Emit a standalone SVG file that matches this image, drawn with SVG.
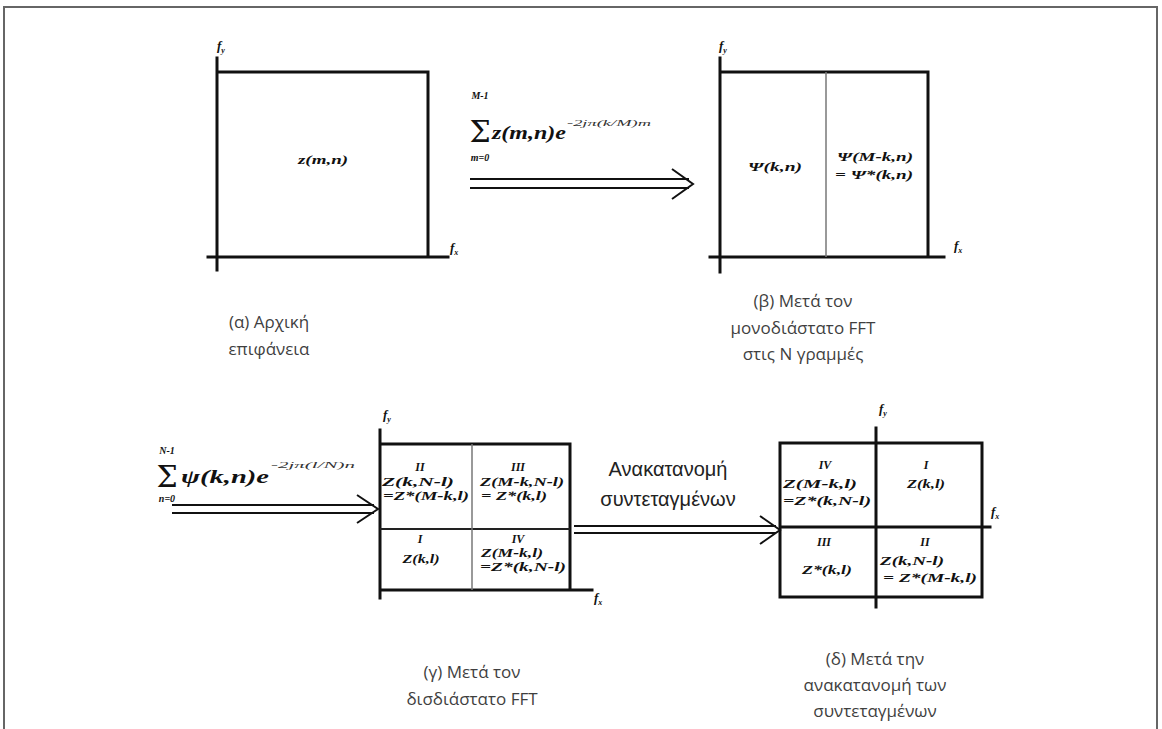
<svg xmlns="http://www.w3.org/2000/svg" width="1162" height="729" viewBox="0 0 1162 729">
<style>
.ax{stroke:#111;stroke-width:3;fill:none;stroke-linecap:square}
.thin{stroke:#777;stroke-width:1.5;fill:none}
.mid{stroke:#222;stroke-width:2;fill:none}
.arr{stroke:#111;stroke-width:2;fill:none}
.m{font-family:"Liberation Serif",serif;font-style:italic;font-weight:bold;fill:#111;text-anchor:middle}
.ms{font-family:"Liberation Serif",serif;font-style:italic;font-weight:bold;fill:#111;text-anchor:start}
.sup{font-family:"Liberation Serif",serif;font-style:italic;font-weight:normal;fill:#333;text-anchor:start}
.sig{font-family:"DejaVu Serif",serif;font-weight:normal;font-style:normal;fill:#111;text-anchor:middle}
.cap{font-family:"Open Sans","Noto Sans",sans-serif;font-size:17px;fill:#3f3f3f;text-anchor:middle}
.lab{font-family:"Liberation Serif",serif;font-style:italic;font-weight:bold;font-size:13px;fill:#111}
.gr{font-family:"Liberation Sans",sans-serif;font-size:20px;fill:#222;text-anchor:middle}
</style>
<rect x="4" y="7" width="1153" height="740" fill="none" stroke="#666" stroke-width="2"/>

<g id="panel-a">
<path class="ax" d="M217,58 V270 M208,257 H448 M217,72 H428 V257"/>
<text class="lab" x="217" y="50">f<tspan font-size="8" dy="3">y</tspan></text>
<text class="lab" x="450" y="252">f<tspan font-size="8" dy="3">x</tspan></text>
<text class="m" x="323" y="164" font-size="13" textLength="50" lengthAdjust="spacingAndGlyphs">z(m,n)</text>
</g>

<g id="panel-b">
<path class="ax" d="M720,58 V272 M710,257 H944 M720,72 H928 V257"/>
<path class="thin" d="M826,72 V257"/>
<text class="lab" x="719" y="50">f<tspan font-size="8" dy="3">y</tspan></text>
<text class="lab" x="954" y="250">f<tspan font-size="8" dy="3">x</tspan></text>
<g class="m" font-size="13">
<text x="775" y="171" textLength="54" lengthAdjust="spacingAndGlyphs">Ψ(k,n)</text>
<text x="875" y="161" textLength="76" lengthAdjust="spacingAndGlyphs">Ψ(M-k,n)</text>
<text x="874" y="179" textLength="78" lengthAdjust="spacingAndGlyphs">= Ψ*(k,n)</text>
</g>
</g>

<g id="panel-c">
<path class="ax" d="M380,430 V598 M380,590 H592 M380,444 H570 V590"/>
<path class="mid" d="M380,529 H570"/>
<path class="thin" d="M472,444 V590"/>
<text class="lab" x="383" y="419">f<tspan font-size="8" dy="3">y</tspan></text>
<text class="lab" x="594" y="602">f<tspan font-size="8" dy="3">x</tspan></text>
<g class="m" font-size="12">
<text x="420" y="471">II</text>
<text x="418" y="486" textLength="72" lengthAdjust="spacingAndGlyphs">Z(k,N-l)</text>
<text x="426" y="500" textLength="86" lengthAdjust="spacingAndGlyphs">=Z*(M-k,l)</text>
<text x="518" y="471">III</text>
<text x="522" y="486" textLength="84" lengthAdjust="spacingAndGlyphs">Z(M-k,N-l)</text>
<text x="514" y="500" textLength="66" lengthAdjust="spacingAndGlyphs">= Z*(k,l)</text>
<text x="420" y="543">I</text>
<text x="421" y="563" textLength="37" lengthAdjust="spacingAndGlyphs">Z(k,l)</text>
<text x="518" y="543">IV</text>
<text x="512" y="557" textLength="62" lengthAdjust="spacingAndGlyphs">Z(M-k,l)</text>
<text x="523" y="571" textLength="86" lengthAdjust="spacingAndGlyphs">=Z*(k,N-l)</text>
</g>
</g>

<g id="panel-d">
<path class="ax" d="M876,428 V607 M780,527 H990 M780,443 H982 V597 H780 Z"/>
<text class="lab" x="879" y="413">f<tspan font-size="8" dy="3">y</tspan></text>
<text class="lab" x="991" y="516">f<tspan font-size="8" dy="3">x</tspan></text>
<g class="m" font-size="12">
<text x="825" y="469">IV</text>
<text x="820" y="488" textLength="74" lengthAdjust="spacingAndGlyphs">Z(M-k,l)</text>
<text x="827" y="505" textLength="88" lengthAdjust="spacingAndGlyphs">=Z*(k,N-l)</text>
<text x="926" y="469">I</text>
<text x="926" y="488" textLength="38" lengthAdjust="spacingAndGlyphs">Z(k,l)</text>
<text x="824" y="546">III</text>
<text x="827" y="574" textLength="50" lengthAdjust="spacingAndGlyphs">Z*(k,l)</text>
<text x="925" y="546">II</text>
<text x="912" y="565" textLength="64" lengthAdjust="spacingAndGlyphs">Z(k,N-l)</text>
<text x="930" y="582" textLength="94" lengthAdjust="spacingAndGlyphs">= Z*(M-k,l)</text>
</g>
</g>

<g id="connectors">
<g id="arrow-ab">
<path class="arr" d="M470,179 H689 M470,188 H689 M672,169 L693,184 L672,199"/>
<text class="sig" x="480" y="142" font-size="30">Σ</text>
<text class="m" x="480" y="99" font-size="10">M-1</text>
<text class="m" x="480" y="161" font-size="10">m=0</text>
<text class="ms" x="492" y="139" font-size="18" textLength="74" lengthAdjust="spacingAndGlyphs">z(m,n)e</text>
<text class="sup" x="567" y="126" font-size="9" textLength="84" lengthAdjust="spacingAndGlyphs">-2jπ(k/M)m</text>
</g>
<g id="arrow-bc">
<path class="arr" d="M172,505 H374 M172,513 H374 M357,495 L378,509 L357,523"/>
<text class="sig" x="167" y="487" font-size="30">Σ</text>
<text class="m" x="167" y="454" font-size="10">N-1</text>
<text class="m" x="167" y="502" font-size="10">n=0</text>
<text class="ms" x="181" y="483" font-size="18" textLength="88" lengthAdjust="spacingAndGlyphs">ψ(k,n)e</text>
<text class="sup" x="271" y="468" font-size="9" textLength="84" lengthAdjust="spacingAndGlyphs">-2jπ(l/N)n</text>
</g>
<g id="arrow-cd">
<path class="arr" d="M574,526 H776 M574,533 H776 M760,516 L780,530 L760,544"/>
<text class="gr" x="668" y="476">Ανακατανομή</text>
<text class="gr" x="668" y="506">συντεταγμένων</text>
</g>
</g>

<g id="captions">
<text class="cap" x="269" y="328">(α) Αρχική</text>
<text class="cap" x="269" y="355">επιφάνεια</text>
<text class="cap" x="803" y="307">(β) Μετά τον</text>
<text class="cap" x="803" y="334">μονοδιάστατο FFT</text>
<text class="cap" x="803" y="360">στις N γραμμές</text>
<text class="cap" x="472" y="678">(γ) Μετά τον</text>
<text class="cap" x="472" y="705">δισδιάστατο FFT</text>
<text class="cap" x="875" y="665">(δ) Μετά την</text>
<text class="cap" x="875" y="691">ανακατανομή των</text>
<text class="cap" x="875" y="717">συντεταγμένων</text>
</g>
</svg>
